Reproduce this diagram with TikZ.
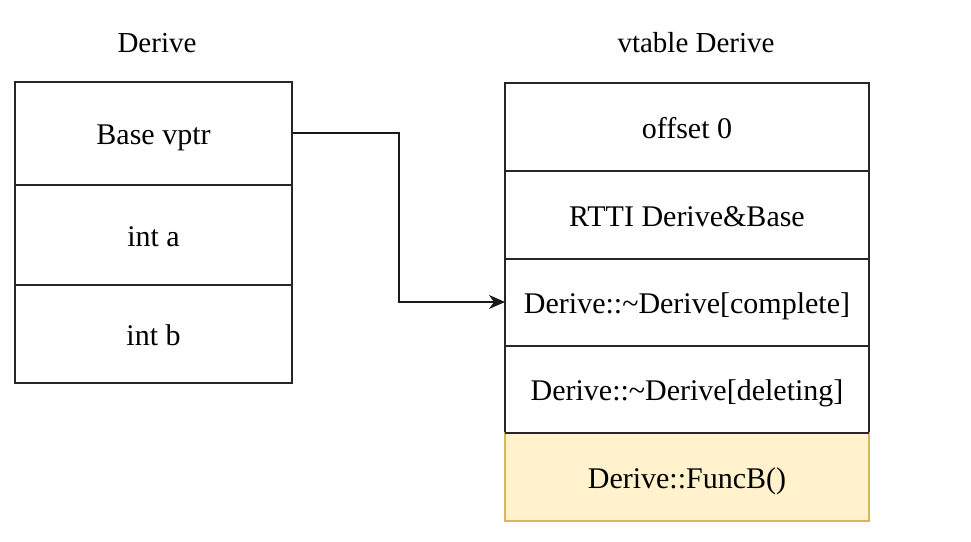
\documentclass[tikz,border=0pt]{standalone}
\usepackage{fontspec}
\setmainfont{Liberation Serif}
\usetikzlibrary{arrows.meta}
\definecolor{yfill}{HTML}{FFF2CC}
\definecolor{ydraw}{HTML}{D6B656}
\begin{document}
\begin{tikzpicture}[x=1pt,y=-1pt,
  cell/.style={draw=black!85,line width=1.6pt,inner sep=0pt,outer sep=0pt,
    font=\fontsize{30}{36}\selectfont,text height=27pt,text depth=5pt},
  ttl/.style={inner sep=0pt,font=\fontsize{29}{34}\selectfont},
  conn/.style={draw=black!90,line width=1.6pt,-{Stealth[length=16pt,width=14pt,inset=5pt]}}]
\useasboundingbox (0,0) rectangle (971,541);
\node[ttl] (t1) at (157,43) {Derive};
\node[ttl] (t2) at (696,43) {vtable Derive};
% left structure
\node[cell,minimum width=277pt,minimum height=103pt] (l1) at (153.5,133.5) {Base vptr};
\node[cell,minimum width=277pt,minimum height=100pt] (l2) at (153.5,235) {int a};
\node[cell,minimum width=277pt,minimum height=98pt] (l3) at (153.5,334) {int b};
% right vtable
\node[cell,minimum width=364pt,minimum height=88pt] (r1) at (687,127) {offset 0};
\node[cell,minimum width=364pt,minimum height=88pt] (r2) at (687,215) {RTTI Derive\&Base};
\node[cell,minimum width=364pt,minimum height=87pt] (r3) at (687,302.5) {Derive::\char"7E Derive[complete]};
\node[cell,minimum width=364pt,minimum height=87pt] (r4) at (687,389.5) {Derive::\char"7E Derive[deleting]};
\node[cell,draw=ydraw,fill=yfill,minimum width=364pt,minimum height=88pt] (r5) at (687,477) {Derive::FuncB()};
\draw[cell] (r4.south west) -- (r4.south east);
\coordinate (a1) at (l1.east |- 0,133);
\coordinate (a2) at (r3.west |- 0,302);
\draw[conn] (a1) -- (399,133) -- (399,302) -- (a2);
\end{tikzpicture}
\end{document}
